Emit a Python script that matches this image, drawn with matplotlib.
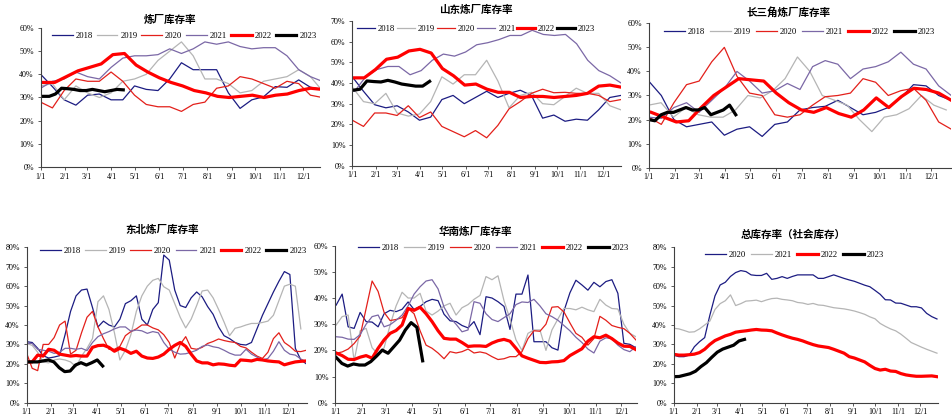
import numpy as np
import matplotlib
matplotlib.use("Agg")
import matplotlib.pyplot as plt
from matplotlib.lines import Line2D

W, H = 953, 419
plt.rcParams['font.family'] = ['Liberation Serif', 'Noto Sans CJK SC', 'DejaVu Sans']

# ---------------- data ----------------
years = ['2018', '2019', '2020', '2021', '2022', '2023']
month_days = [0, 31, 59, 90, 120, 151, 181, 212, 243, 273, 304, 334]
month_labels = ['1/1', '2/1', '3/1', '4/1', '5/1', '6/1', '7/1', '8/1', '9/1', '10/1', '11/1', '12/1']

# 炼厂库存率 (half-month readings)
r_2018 = [40, 34.7, 29, 26.7, 31, 31.5, 29, 29, 35, 33.5, 33, 38, 45, 42, 42, 42, 32, 25.3, 29, 30.3, 34.7, 34.4, 37.6, 34.4, 33.5]
r_2019 = [35, 36, 29, 35, 32, 30, 32, 37, 38, 40, 46, 50, 54, 48, 38, 38, 36, 32, 33, 37, 38, 39, 42, 39, 33]
r_2020 = [28, 25.5, 33, 38, 37, 37, 41, 37, 31, 27, 26, 26, 24, 27, 28, 34, 35, 39, 38, 36, 34, 37, 36, 31, 30]
r_2021 = [34, 37, 38, 41, 39, 38, 43, 47, 48, 48, 48.5, 51, 49, 51, 54, 53, 54, 52, 51, 51.5, 51.5, 48, 42, 39, 37]
r_2022 = [36.5, 36.5, 39, 41.5, 43, 44.5, 48.5, 49, 44, 41, 38.5, 36.5, 35, 33, 32, 30.5, 30, 30.5, 31, 30, 31, 31.5, 33, 34, 33.5]
r_2023 = [30.5, 30.5, 31.5, 34, 33.8, 33.5, 33, 33, 33.5, 33, 32.5, 33, 33.5, 33.3]

# 山东炼厂库存率
s_2018 = [43, 36, 29.5, 28, 29, 26, 22, 23.5, 32, 34, 30, 33, 36, 33, 35, 36.5, 34, 23, 24.5, 21.5, 22.5, 22, 27, 33, 34]
s_2019 = [38, 31, 30, 35, 25.5, 24, 25, 31, 43, 39.5, 44, 44, 51, 41, 28, 34, 35.5, 30, 29.5, 33.5, 37.5, 35, 35, 29, 27]
s_2020 = [22, 19, 25.5, 25.5, 24.3, 29, 23.3, 26, 19, 16.5, 14, 17, 13.5, 19.5, 27.5, 31, 35, 37, 35.3, 35.5, 35, 35, 34, 31, 32]
s_2021 = [36, 43, 46.5, 48, 48, 44, 46, 51, 54, 53, 55, 58.5, 59.5, 61, 63, 63, 65.5, 63.5, 63, 63.5, 59, 51, 46, 43.5, 40]
s_2022 = [42.5, 42.5, 46.5, 51.5, 52.5, 55.5, 56.3, 54.5, 47, 43.5, 39, 39.5, 37, 35.5, 35.5, 33, 33.5, 33.5, 33, 33.5, 34, 35, 38.5, 39, 38]
s_2023 = [36.5, 37, 41, 40.7, 40.5, 41.3, 40.5, 39.5, 39, 38.5, 38.5, 40.8]

# 长三角炼厂库存率
c_2018 = [36, 30, 20, 17, 18, 19, 13.5, 16, 17, 13, 18, 19, 24, 25, 25.5, 28, 25, 22, 23, 25, 29, 34.5, 34, 30, 28]
c_2019 = [26, 27, 21, 25, 22, 21, 21, 24, 30, 29, 32, 37, 46, 40, 30, 28, 26, 20, 15, 21, 22, 24.5, 30, 26, 24]
c_2020 = [21, 18, 27, 34.5, 36, 44, 50, 38, 31, 30, 22, 21, 22, 26, 29.5, 30, 31, 37, 35.5, 30, 32, 33, 28, 19, 16]
c_2021 = [21, 20.5, 25, 27, 23, 28, 33, 40, 36, 31, 32, 35, 32.5, 42, 44.5, 43, 37, 41, 42, 44, 48, 43, 41, 34, 30]
c_2022 = [23, 21, 19, 19.5, 25, 30, 33.5, 37, 36.5, 36, 31, 27, 24, 23, 25, 22.5, 21, 24, 29, 25, 29.5, 33, 32.5, 31, 28]
c_2023 = [20, 19.5, 22, 23, 23, 24, 25, 24, 24, 25, 22, 23, 24, 26, 22]

# 东北炼厂库存率 (weekly)
n_2018 = [31.4, 31, 28, 24.2, 23, 23.5, 24.2, 35, 47, 55, 58, 58.5, 49, 39, 42, 40, 39, 43, 51, 52.5,
          55, 43, 40, 48, 51.5, 76, 73.4, 58, 50, 49, 54, 57, 54.5, 49.5, 45.5, 39, 34.5, 33, 31, 30,
          29.7, 31, 38, 45, 51, 57, 62.5, 67.5, 66, 28, 22, 20]
n_2019 = [30.5, 29.5, 26, 21, 20.5, 22, 22.5, 22, 21, 18.5, 24, 28, 33, 52, 55, 48, 36, 22, 27, 35,
          47, 55, 60, 63, 64, 59.7, 58, 51, 44, 38.5, 43, 50, 57.5, 58, 54, 48, 41.5, 34.5, 38.3, 39,
          40, 40.8, 40.8, 41.3, 42, 45, 52.5, 60, 61, 60, 38]
n_2020 = [25.4, 17.7, 16.5, 30, 30, 33.5, 40, 42, 25, 27, 36, 44, 47, 39, 33, 27.5, 27.5, 29, 34.5, 36.6,
          38, 40, 40, 38.5, 37.5, 35, 31, 23, 30, 34, 28, 27.5, 28.5, 30.5, 31.5, 32.8, 32, 31.4, 31, 29,
          28.2, 26, 24, 22.8, 26, 33, 36, 31, 29, 26.5, 26.3, 27]
n_2021 = [30.5, 30.5, 27.5, 27, 26.5, 25.4, 26, 28, 28, 27.5, 28, 26.8, 31, 34, 35.5, 36.6, 38, 39, 39, 36.8,
          37.4, 37, 35.7, 36.6, 36, 31, 27.5, 26, 25, 25.2, 26, 27, 29, 29.7, 28.8, 28.3, 27, 25.5, 24.5, 24.5,
          27.5, 25, 23.5, 22, 22.8, 26.5, 31.4, 27, 25, 24.5, 22.5, 21]
n_2022 = [21, 21, 24.5, 24, 27.5, 27, 25, 24.5, 24, 24.3, 24, 24, 28.5, 29.4, 29.6, 28.5, 26.5, 28, 27, 25.4,
          26.5, 24, 23, 22.8, 23.5, 25, 27.5, 29.5, 31, 29, 25, 21.5, 20.5, 20.5, 19.5, 20, 19.8, 19.3, 19, 22,
          21.8, 21.5, 22.3, 22, 21.5, 21.2, 21, 19.5, 20.3, 21, 21.3, 21.5]
n_2023 = [21, 21, 21, 21.5, 22, 21, 18, 16, 16.3, 19.4, 20.6, 19.4, 20.6, 22, 18.9]

# 华南炼厂库存率 (weekly)
h_2018 = [37.3, 41.5, 29, 28.4, 34.5, 31, 30.8, 29, 34, 35.3, 34.8, 35.7, 38.5, 35.6, 36.8, 38.6, 39.5, 39, 33.8, 31.3,
          31, 29.5, 28.6, 31, 26, 40.5, 40, 38.6, 36.8, 28, 41.5, 41.5, 48.8, 23.3, 23.3, 23.3, 21, 20.1, 35, 42,
          46.8, 45, 43, 46, 44.3, 46.3, 47, 41.8, 22.7, 22.3, 21]
h_2019 = [29.7, 32.9, 33.5, 16, 27.5, 28.4, 21, 18.5, 21, 29.7, 37, 42.2, 40, 40, 41.8, 35, 33.5, 35, 37, 38,
          33.5, 36.3, 37.5, 39.5, 41, 48.2, 47, 48.5, 39, 32, 24, 20, 26.5, 27.8, 27.8, 20, 27.8, 32, 36, 36,
          35.5, 36.5, 35.5, 34.8, 39.5, 37.3, 36, 35.8, 30, 26.5, 25.2]
h_2020 = [18.9, 19.4, 20.5, 22.6, 25.5, 36, 46.5, 42.5, 34.5, 31.4, 31.8, 32.5, 36, 34, 27.5, 22, 20.8, 19, 16.8, 19.5,
          19, 19.5, 20.5, 19, 19.4, 18.9, 17.6, 16.5, 16.8, 17.6, 17.6, 19.5, 24.5, 27.5, 27.3, 30, 36.5, 36.7, 34.7, 30.5,
          26.5, 25, 22, 24.5, 33, 31.5, 29.5, 28.8, 28.3, 26.5, 24]
h_2021 = [25.2, 25, 24.3, 24.2, 26, 30, 32.9, 33.5, 29, 29.8, 31.5, 33.5, 37, 41.5, 44.3, 46.5, 47, 43.5, 36.5, 32.5,
          30, 27.1, 27.8, 38.6, 38, 34, 31.8, 31, 32.5, 34, 37.5, 38.5, 38.3, 39.5, 37, 34, 32.9, 31.5, 29.5, 27.5,
          25, 23, 20.5, 19, 23.5, 24.8, 24.5, 22, 20.3, 19.5, 21.4]
h_2022 = [19, 18, 16.6, 16.5, 17.4, 18, 17, 20.8, 24, 26.5, 27.6, 29.7, 36, 35.3, 36.5, 34, 31, 27.5, 24.6, 24.3,
          24.3, 23, 21.5, 21.7, 21.7, 21.5, 22.8, 23.7, 24.2, 23.5, 20.8, 17.9, 17, 16.2, 15.4, 15.3, 15.6, 15.7, 16.1, 18,
          19.3, 20.6, 23.5, 25.2, 24.8, 25.8, 24.5, 22.8, 21.6, 21.5, 20.3]
h_2023 = [17.3, 15, 14, 14.8, 14.4, 14.4, 15.7, 17.8, 20.1, 18.9, 21.4, 23.9, 27.8, 30.6, 28.8, 16]

# 总库存率（社会库存） (weekly)
t_years = ['2020', '2021', '2022', '2023']
t_2020 = [24.5, 23.7, 23.7, 24.5, 28.8, 31.4, 33.5, 45, 55, 60.6, 62, 65, 67, 68, 67.5, 65.8, 65.5, 65.5, 66.6, 63.5,
          64, 64.9, 64, 65, 65.8, 65.8, 65.8, 65.8, 64, 64, 64.9, 65.8, 64.9, 64, 63.2, 62.5, 61.5, 60.5, 59.7, 57.8,
          55.8, 53, 52.9, 51.3, 51.2, 50.3, 49.4, 49.4, 48.8, 46, 44.3, 43.1]
t_2021 = [38.3, 38, 37.2, 36.3, 36.5, 38, 40, 42, 48, 51, 52.5, 55.5, 50, 51, 52.3, 52.5, 52.8, 52, 52.9, 53.6,
          53.8, 53.2, 52.9, 52.5, 51.6, 51.3, 50.6, 51.1, 50.3, 50.1, 49.5, 48.9, 48.6, 48.3, 47.8, 47.2, 46.4, 45.5, 44.2, 43.2,
          40.8, 39.3, 38, 37, 35.3, 33.2, 31, 29.8, 28.6, 27.5, 26.5, 25.5]
t_2022 = [24.9, 24.5, 24.5, 24.7, 25, 25.8, 27.5, 30, 32, 33.2, 34.4, 35.2, 36.3, 36.7, 37, 37.4, 37.7, 37.4, 37.3, 37,
          35.9, 34.9, 34, 33.2, 32.6, 31.8, 30.8, 29.9, 29.2, 28.8, 28.4, 27.5, 26.5, 25.5, 23.7, 23, 22, 21, 19.2, 17.6,
          16.8, 17.2, 16.3, 16.1, 15, 14.3, 13.9, 13.6, 13.6, 13.7, 13.8, 13.4]
t_2023 = [13.4, 13.5, 14.2, 14.9, 16.2, 18.6, 20.6, 23.4, 26, 27.6, 28.6, 29.6, 31.8, 32.6]


def span(vals, start, end):
    return np.linspace(start, end, len(vals))


def weekly(vals, start=0):
    return start + 7 * np.arange(len(vals))


# ---------------- styles ----------------
STYLE = {
    '2018': dict(color='#1c1c82', lw=0.9),
    '2019': dict(color='#b5b5b5', lw=0.9),
    '2020': dict(color='#e3201b', lw=0.9),
    '2021': dict(color='#7b68a6', lw=0.9),
    '2022': dict(color='#ff0000', lw=2.3),
    '2023': dict(color='#000000', lw=2.3),
}
STYLE6 = dict(STYLE)
STYLE6['2020'] = STYLE['2018']
STYLE6['2021'] = STYLE['2019']

fig = plt.figure(figsize=(W / 100, H / 100), dpi=100)
AX_COL = '#404040'


def panel(left, top, right, bottom, x121, ymax, series, title, title_xy, leg_xy,
          styles=STYLE, colsp=0.6, hlen=2.4):
    rect = [left / W, 1 - bottom / H, (right - left) / W, (bottom - top) / H]
    ax = fig.add_axes(rect)
    ax.set_facecolor('none')
    ppd = (x121 - left) / 334.0
    ax.set_xlim(0, (right - left) / ppd)
    ax.set_ylim(0, ymax)
    for lab, (x, y) in series:
        st = styles[lab]
        ax.plot(x, y, color=st['color'], lw=st['lw'], solid_joinstyle='round', label=lab)
    ax.set_xticks(month_days)
    ax.set_xticklabels(month_labels)
    yt = list(range(0, ymax + 1, 10))
    ax.set_yticks(yt)
    ax.set_yticklabels([f'{v}%' for v in yt])
    for s in ['top', 'right']:
        ax.spines[s].set_visible(False)
    for s in ['left', 'bottom']:
        ax.spines[s].set_color(AX_COL)
        ax.spines[s].set_linewidth(0.8)
    ax.tick_params(direction='out', length=2, width=0.6, color=AX_COL, labelsize=5.8, pad=2)
    ax.tick_params(axis='y', pad=3)
    fig.text(title_xy[0] / W, 1 - title_xy[1] / H, title, ha='center', va='center',
             fontsize=7.6, fontweight='bold', family=['Noto Sans CJK SC', 'DejaVu Sans'])
    handles = [Line2D([], [], color=styles[l]['color'], lw=styles[l]['lw']) for l, _ in series]
    labels = [l for l, _ in series]
    ax.legend(handles, labels, loc='center left', ncol=len(labels),
              bbox_to_anchor=(leg_xy[0] / W, 1 - leg_xy[1] / H), bbox_transform=fig.transFigure,
              frameon=False, fontsize=6.2, handlelength=hlen, handletextpad=0.35,
              columnspacing=colsp, borderpad=0, borderaxespad=0)
    return ax


# panel 1: 炼厂库存率
panel(40.7, 28, 320, 167, 303.3, 60,
      [('2018', (span(r_2018, 0, 358), r_2018)), ('2019', (span(r_2019, 0, 358), r_2019)),
       ('2020', (span(r_2020, 0, 358), r_2020)), ('2021', (span(r_2021, 0, 358), r_2021)),
       ('2022', (span(r_2022, 3, 358), r_2022)), ('2023', (span(r_2023, 3, 105), r_2023))],
      '炼厂库存率', (170, 20), (52, 36), colsp=0.45)

# panel 2: 山东
panel(352.3, 21, 620.7, 165.7, 603, 70,
      [('2018', (span(s_2018, 0, 358), s_2018)), ('2019', (span(s_2019, 0, 358), s_2019)),
       ('2020', (span(s_2020, 0, 358), s_2020)), ('2021', (span(s_2021, 3, 358), s_2021)),
       ('2022', (span(s_2022, 1, 358), s_2022)), ('2023', (span(s_2023, 1, 103), s_2023))],
      '山东炼厂库存率', (476, 10), (357, 29), colsp=0.2, hlen=2.1)

# panel 3: 长三角
panel(648.7, 23.3, 951, 167.7, 931, 60,
      [('2018', (span(c_2018, 0, 358), c_2018)), ('2019', (span(c_2019, 0, 352), c_2019)),
       ('2020', (span(c_2020, 0, 358), c_2020)), ('2021', (span(c_2021, 0, 358), c_2021)),
       ('2022', (span(c_2022, 3, 358), c_2022)), ('2023', (span(c_2023, 0, 103), c_2023))],
      '长三角炼厂库存率', (788, 12), (664, 32), colsp=0.6)

# panel 4: 东北
panel(26.7, 247.3, 306.5, 402.7, 288.3, 80,
      [('2018', (weekly(n_2018), n_2018)), ('2019', (weekly(n_2019), n_2019)),
       ('2020', (weekly(n_2020), n_2020)), ('2021', (weekly(n_2021), n_2021)),
       ('2022', (weekly(n_2022), n_2022)), ('2023', (span(n_2023, 0, 97), n_2023))],
      '东北炼厂库存率', (162, 230), (40, 251), colsp=0.5)

# panel 5: 华南
panel(335.3, 245.7, 636.5, 402.7, 621.3, 60,
      [('2018', (weekly(h_2018, 1), h_2018)), ('2019', (weekly(h_2019, 1), h_2019)),
       ('2020', (weekly(h_2020, 1), h_2020)), ('2021', (weekly(h_2021, 1), h_2021)),
       ('2022', (weekly(h_2022, 1), h_2022)), ('2023', (span(h_2023, 1, 102), h_2023))],
      '华南炼厂库存率', (475, 232), (358, 248), colsp=0.6)

# panel 6: 总库存率
panel(673.7, 247.3, 937.7, 402.7, 920, 80,
      [('2020', (weekly(t_2020), t_2020)), ('2021', (weekly(t_2021), t_2021)),
       ('2022', (weekly(t_2022), t_2022)), ('2023', (span(t_2023, 0, 96), t_2023))],
      '总库存率（社会库存）', (793, 235), (705, 255), styles=STYLE6, colsp=0.6)

fig.savefig('out.png', dpi=100)
